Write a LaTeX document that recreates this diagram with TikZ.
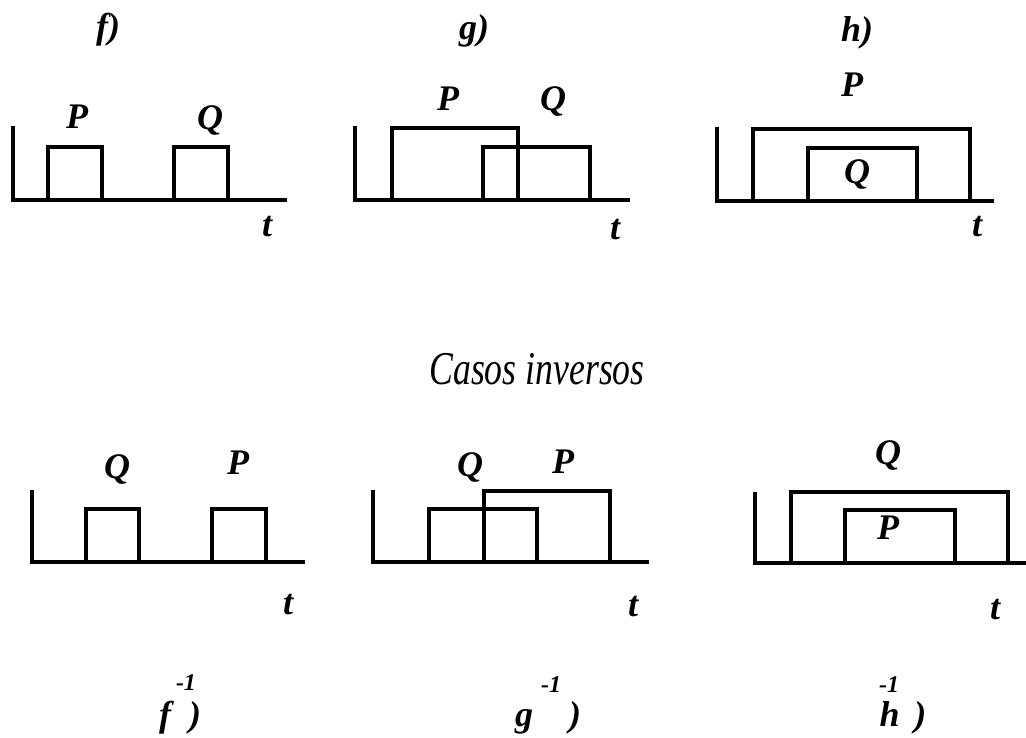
\documentclass[tikz,border=0pt]{standalone}
\usepackage{fontspec}
\setmainfont{Liberation Serif}
\usetikzlibrary{positioning}

\begin{document}
\begin{tikzpicture}[x=1pt,y=-1pt,
  signal/.style={line width=4pt,line join=miter,line cap=rect},
  tag/.style={font=\fontsize{36}{38}\selectfont\bfseries\itshape,inner sep=0pt},
  power/.style={font=\fontsize{24}{26}\selectfont\bfseries\itshape,inner sep=0pt},
  banner/.style={font=\fontsize{47}{49}\selectfont\itshape,inner sep=0pt}
]
\useasboundingbox (0,0) rectangle (1026,738);

% top row: f), g), h)
\node[tag] (fhead) at (108,30) {f)};
\node[tag] (ghead) at (474,31) {g)};
\node[tag] (hhead) at (857,33) {h)};

\draw[signal] (13,128) -- (13,200) -- (285,200);
\draw[signal] (48,200) |- (102,147) -- (102,200);
\draw[signal] (174,200) |- (228,147) -- (228,200);
\node[tag] (fP) at (77,117) {P};
\node[tag] (fQ) at (210,121) {Q};

\draw[signal] (355,128) -- (355,200) -- (628,200);
\draw[signal] (392,200) |- (518,128) -- (518,200);
\draw[signal] (483,200) |- (590,147) -- (590,200);
\node[tag] (gP) at (448,99) {P};
\node[tag] (gQ) at (553,102) {Q};

\draw[signal] (717,129) -- (717,201) -- (992,201);
\draw[signal] (753,201) |- (970,129) -- (970,201);
\draw[signal] (808,201) |- (917,148) -- (917,201);
\node[tag] (hP) at (852,85) {P};
\node[tag] (hQ) at (857,175) {Q};

% separator title
\node[banner] (inv) at (537,369) {\scalebox{0.76}[1]{Casos inversos}};

% bottom row: inverse cases
\draw[signal] (32,492) -- (32,562) -- (303,562);
\draw[signal] (86,562) |- (139,509) -- (139,562);
\draw[signal] (212,562) |- (266,509) -- (266,562);
\node[tag] (fiQ) at (117,469) {Q};
\node[tag] (fiP) at (238,463) {P};

\draw[signal] (373,492) -- (373,562) -- (647,562);
\draw[signal] (429,562) |- (537,509) -- (537,562);
\draw[signal] (484,562) |- (610,491) -- (610,562);
\node[tag] (giQ) at (470,467) {Q};
\node[tag] (giP) at (563,462) {P};

\draw[signal] (755,494) -- (755,563) -- (1026,563);
\draw[signal] (791,563) |- (1008,492) -- (1008,563);
\draw[signal] (845,563) |- (955,510) -- (955,563);
\node[tag] (hiQ) at (888,455) {Q};
\node[tag] (hiP) at (888,528) {P};

\foreach \n/\x/\y in {ft/267/227,gt/615/230,ht/977/227,fit/288/605,git/633/607,hit/995/610}
  \node[tag] (\n) at (\x,\y) {t};

\node[power] (fexp) at (186,683) {-1};
\node[power] (gexp) at (551,685) {-1};
\node[power] (hexp) at (889,685) {-1};
\node[tag] (fbase) at (180,718) {f\hspace{18pt})};
\node[tag] (gbase) at (548,718) {g\hspace{36pt})};
\node[tag] (hbase) at (903,718) {h\hspace{15pt})};
\end{tikzpicture}
\end{document}
